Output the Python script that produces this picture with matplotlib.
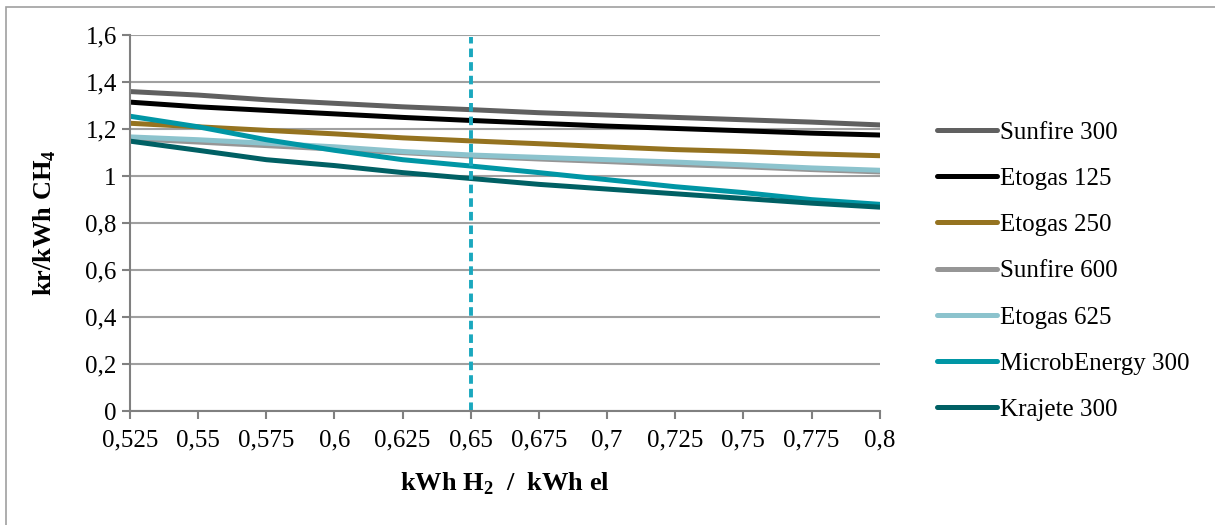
import numpy as np
import matplotlib.pyplot as plt
from matplotlib.patches import Rectangle

plt.rcParams['font.family'] = ['Liberation Serif', 'DejaVu Serif']
plt.rcParams['mathtext.fontset'] = 'custom'
plt.rcParams['mathtext.rm'] = 'Liberation Serif'
plt.rcParams['mathtext.bf'] = 'Liberation Serif:bold'

x = [0.525, 0.55, 0.575, 0.6, 0.625, 0.65, 0.675, 0.7, 0.725, 0.75, 0.775, 0.8]
x_labels = ['0,525', '0,55', '0,575', '0,6', '0,625', '0,65', '0,675', '0,7',
            '0,725', '0,75', '0,775', '0,8']

sunfire_300 = [1.36, 1.345, 1.325, 1.31, 1.295, 1.283, 1.27, 1.26, 1.25, 1.24, 1.23, 1.218]
etogas_125 = [1.315, 1.295, 1.28, 1.265, 1.25, 1.237, 1.225, 1.213, 1.203, 1.193, 1.183, 1.175]
etogas_250 = [1.225, 1.21, 1.195, 1.18, 1.163, 1.15, 1.138, 1.125, 1.113, 1.105, 1.095, 1.087]
sunfire_600 = [1.16, 1.145, 1.13, 1.115, 1.1, 1.085, 1.073, 1.062, 1.05, 1.04, 1.028, 1.018]
etogas_625 = [1.167, 1.155, 1.14, 1.125, 1.105, 1.09, 1.08, 1.07, 1.06, 1.048, 1.035, 1.025]
microb_300 = [1.255, 1.21, 1.155, 1.11, 1.07, 1.043, 1.015, 0.985, 0.955, 0.93, 0.9, 0.88]
krajete_300 = [1.149, 1.11, 1.07, 1.045, 1.015, 0.99, 0.965, 0.945, 0.925, 0.905, 0.885, 0.868]

series = [
    ('Sunfire 300', sunfire_300, '#606060'),
    ('Etogas 125', etogas_125, '#000000'),
    ('Etogas 250', etogas_250, '#957320'),
    ('Sunfire 600', sunfire_600, '#969696'),
    ('Etogas 625', etogas_625, '#8CC3CD'),
    ('MicrobEnergy 300', microb_300, '#0096A5'),
    ('Krajete 300', krajete_300, '#006064'),
]
marker_x = 0.65

fig = plt.figure(figsize=(12.15, 5.25), dpi=100)
ax = fig.add_axes([0.107, 0.217, 0.617, 0.716])

for name, vals, col in series:
    ax.plot(x, vals, color=col, lw=3.6, label=name, solid_capstyle='round')

ax.axvline(marker_x, ymin=0, ymax=0.995, color='#1AA8BE', lw=2.8, ls=(0, (2.2, 1.3)))

ax.set_xlim(0.525, 0.8)
ax.set_ylim(0, 1.6)
ax.set_xticks(x)
ax.set_xticklabels(x_labels)
ax.set_yticks(np.arange(0, 1.61, 0.2))
ax.set_yticklabels(['0', '0,2', '0,4', '0,6', '0,8', '1', '1,2', '1,4', '1,6'])
ax.tick_params(labelsize=18, colors='#808080', labelcolor='black', length=6, width=1.5)
ax.tick_params(axis='x', pad=7)
ax.grid(axis='y', color='#A0A0A0', lw=1.5)
ax.set_axisbelow(True)
for s in ['top', 'right']:
    ax.spines[s].set_visible(False)
for s in ['left', 'bottom']:
    ax.spines[s].set_color('#808080')
    ax.spines[s].set_linewidth(1.5)

ax.set_xlabel(r'kWh H$_\mathbf{2}$  /  kWh el', fontsize=19, fontweight='bold', labelpad=14)
ax.set_ylabel(r'kr/kWh CH$_\mathbf{4}$', fontsize=19, fontweight='bold', labelpad=20)

ax.legend(loc='center left', bbox_to_anchor=(1.047, 0.372), frameon=False, fontsize=18,
          handlelength=2.4, handletextpad=0.1, labelspacing=0.95)

fig.patches.append(Rectangle((0.005, -0.01), 1.0, 0.997, transform=fig.transFigure,
                             fill=False, edgecolor='#A0A0A0', lw=1.2))

fig.savefig('out.png', dpi=100)
